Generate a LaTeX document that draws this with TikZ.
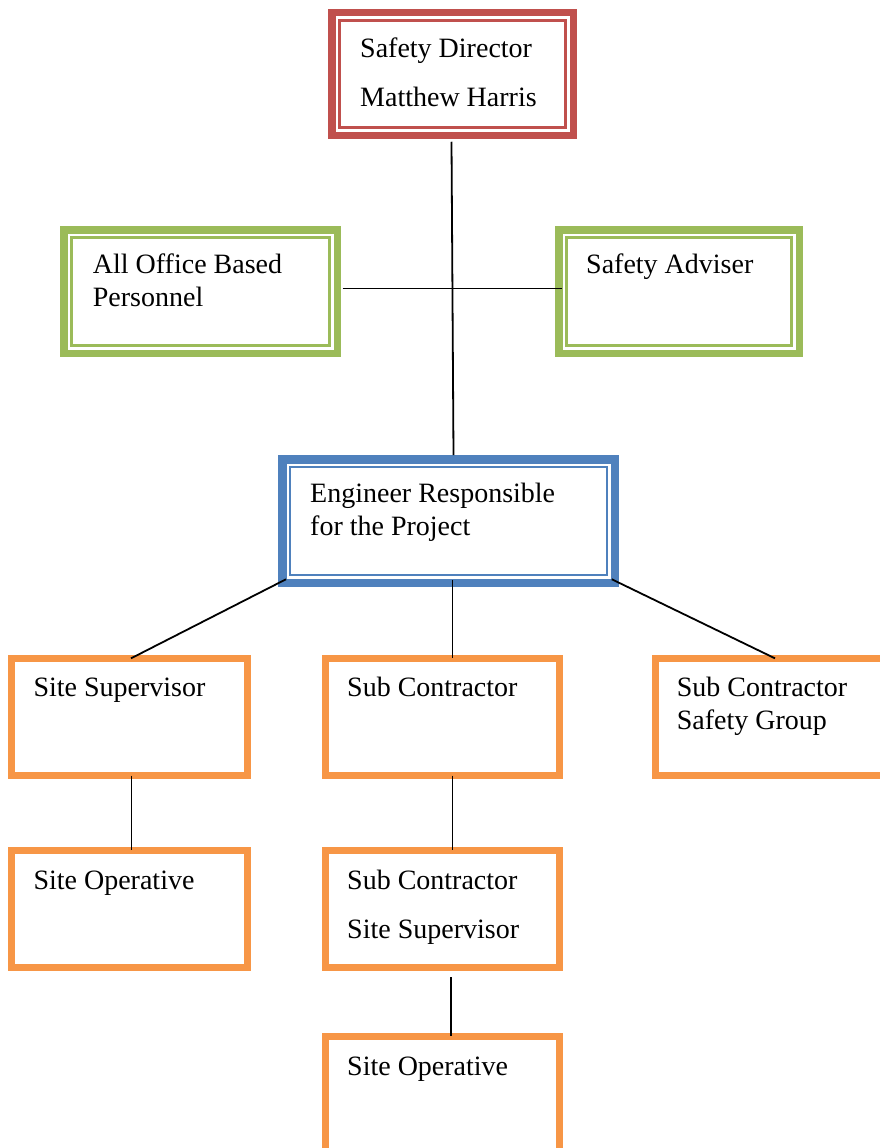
\documentclass[tikz,border=0pt]{standalone}
\usepackage{fontspec}
\setmainfont{Liberation Serif}
\usetikzlibrary{calc}
\definecolor{dred}{HTML}{C0504D}
\definecolor{dgreen}{HTML}{9BBB59}
\definecolor{dblue}{HTML}{4F81BD}
\definecolor{dorange}{HTML}{F79646}
\begin{document}
\begin{tikzpicture}[x=1pt,y=-1pt,
  box/.style={draw, rectangle, inner sep=0pt, outer sep=0pt, fill=white},
  dblbox/.style={box, line width=7.5pt, minimum height=123pt},
  obox/.style={box, draw=dorange, line width=6.7pt, minimum width=236.3pt, minimum height=117.3pt},
  thinline/.style={line width=2.3pt},
  txt/.style={anchor=base west, inner sep=0pt, font=\fontsize{28}{33}\selectfont},
  conn/.style={line width=1.8pt, black}]
\clip (0,0) rectangle (880,1148);
\fill[white] (0,0) rectangle (880,1148);

% boxes
\node[dblbox, draw=dred, minimum width=241.5pt, minimum height=122.5pt] (red) at (452.5,74) {};
\draw[dred, thinline] ([shift={(7.75,7.75)}]red.north west) rectangle ([shift={(-7.75,-7.75)}]red.south east);

\node[dblbox, draw=dgreen, minimum width=273.5pt, minimum height=123.5pt] (gl) at (200.5,291.5) {};
\draw[dgreen, thinline] ([shift={(7.75,7.75)}]gl.north west) rectangle ([shift={(-7.75,-7.75)}]gl.south east);

\node[dblbox, draw=dgreen, minimum width=240.5pt, minimum height=123.5pt] (gr) at (679,291.5) {};
\draw[dgreen, thinline] ([shift={(7.75,7.75)}]gr.north west) rectangle ([shift={(-7.75,-7.75)}]gr.south east);

\node[dblbox, draw=dblue, line width=8.5pt, minimum width=332.5pt, minimum height=123.5pt] (blue) at (448.5,521) {};
\draw[dblue, thinline] ([shift={(7.75,7.75)}]blue.north west) rectangle ([shift={(-7.75,-7.75)}]blue.south east);

\node[obox] (ss) at (129.5,717) {};
\node[obox, minimum width=234.3pt] (sc) at (442.5,717) {};
\node[obox] (scsg) at (773.5,717) {};
\node[obox] (so1) at (129.5,909) {};
\node[obox, minimum width=234.3pt] (scss) at (442.5,909) {};
\node[obox, minimum width=234.3pt] (so2) at (442.5,1095) {};

% connectors
\draw[conn] ($(red.south)+(-1,6.5)$) -- ($(red.south |- blue.north)+(1,-4.25)$);
\draw[conn] ($(gl.east)+(5.25,-3)$) -- ($(gr.west)+(3.25,-3)$);
\draw[conn] ($(blue.south west)+(3.75,-3.5)$) -- ($(ss.north)+(1.5,0)$);
\draw[conn] ($(red.south |- blue.south)+(0,-2.75)$) -- (red.south |- sc.north);
\draw[conn] ($(blue.south east)+(-3,-3.5)$) -- ($(scsg.north)+(1.5,0)$);
\draw[conn] ($(ss.south)+(2,0)$) -- ($(so1.north)+(2,0)$);
\draw[conn] (red.south |- sc.south) -- (red.south |- scss.north);
\draw[conn] ($(scss.south)+(8.5,9.5)$) -- ($(so2.north)+(8.5,0)$);

% texts
\node[txt] (t1a) at (360,57) {Safety Director};
\node[txt] (t1b) at (360,106) {Matthew Harris};
\node[txt] (t2a) at (92.7,273.3) {All Office Based};
\node[txt] (t2b) at (92.7,306) {Personnel};
\node[txt] (t3) at (586,273.3) {Safety Adviser};
\node[txt] (t4a) at (310,502.3) {Engineer Responsible};
\node[txt] (t4b) at (310,535) {for the Project};
\node[txt] (t5) at (33.3,696.7) {Site Supervisor};
\node[txt] (t6) at (347,696.7) {Sub Contractor};
\node[txt] (t7a) at (676.7,696.7) {Sub Contractor};
\node[txt] (t7b) at (676.7,729.3) {Safety Group};
\node[txt] (t8) at (33.3,889.3) {Site Operative};
\node[txt] (t9a) at (347,889.3) {Sub Contractor};
\node[txt] (t9b) at (347,938) {Site Supervisor};
\node[txt] (t10) at (347,1075) {Site Operative};
\end{tikzpicture}
\end{document}
